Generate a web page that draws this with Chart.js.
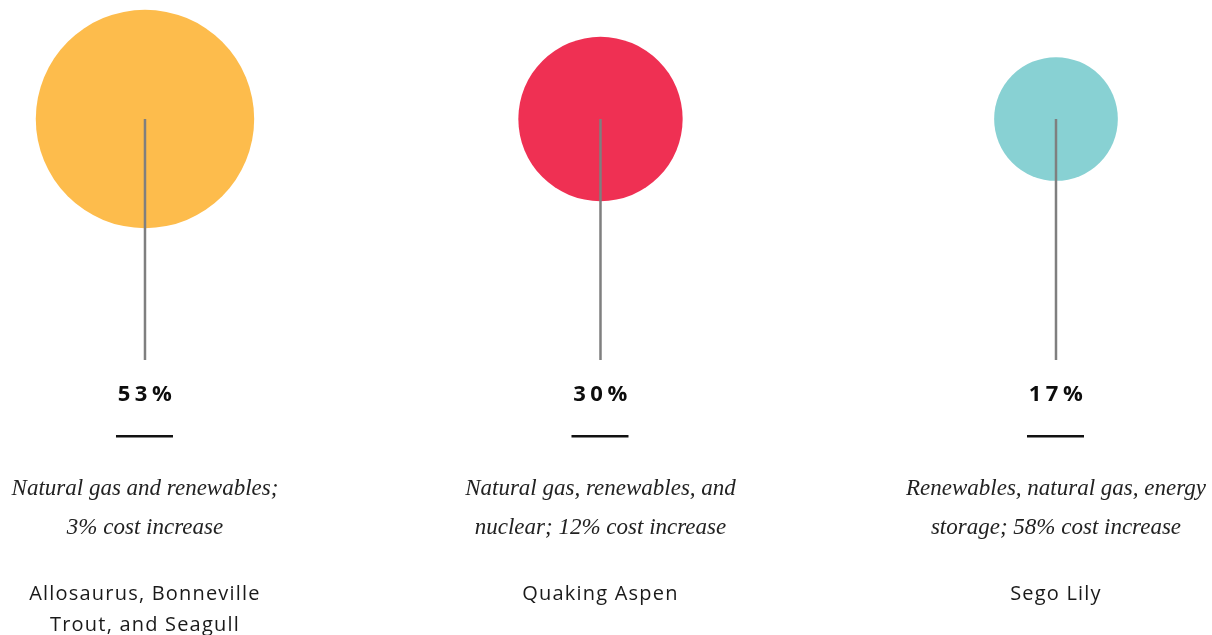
<!DOCTYPE html>
<html lang="en">
<head>
  <meta charset="UTF-8">
  <title>Portfolio shares</title>
  <script src="https://cdn.jsdelivr.net/npm/chart.js"></script>
  <style>
    html, body {
      margin: 0;
      padding: 0;
      background: #fff;
    }
    .wrap {
      position: relative;
      width: 1212px;
      height: 635px;
    }
  </style>
</head>
<body>
  <div class="wrap">
    <canvas id="bubbles"></canvas>
  </div>
  <script>
    // values
    const shares = [53, 30, 17];
    const shareLabels = ['53%', '30%', '17%'];
    const descriptions = [
      ['Natural gas and renewables;', '3% cost increase'],
      ['Natural gas, renewables, and', 'nuclear; 12% cost increase'],
      ['Renewables, natural gas, energy', 'storage; 58% cost increase']
    ];
    const portfolios = [
      ['Allosaurus, Bonneville', 'Trout, and Seagull'],
      ['Quaking Aspen'],
      ['Sego Lily']
    ];
    const colors = ['#fdbc4c', '#ef3053', '#88d1d3'];

    // stems and captions under each bubble
    const captions = {
      id: 'captions',
      afterDatasetsDraw(chart) {
        const { ctx, scales: { x, y } } = chart;
        const top = y.getPixelForValue(1);
        const base = y.getPixelForValue(0);
        ctx.save();
        shares.forEach((v, i) => {
          const cx = x.getPixelForValue(i);
          // stem
          ctx.strokeStyle = '#7f7f7f';
          ctx.lineWidth = 2.5;
          ctx.beginPath();
          ctx.moveTo(cx, top);
          ctx.lineTo(cx, base);
          ctx.stroke();

          ctx.textAlign = 'center';
          ctx.textBaseline = 'middle';

          // percentage
          ctx.fillStyle = '#0d0d0d';
          ctx.font = 'bold 22px "Open Sans", sans-serif';
          ctx.letterSpacing = '4.5px';
          ctx.fillText(shareLabels[i], cx + 2, base + 35);
          ctx.letterSpacing = '0px';

          // short rule
          ctx.fillStyle = '#111';
          ctx.fillRect(cx - 29, base + 75, 57, 2.5);

          // description
          ctx.fillStyle = '#222';
          ctx.font = 'italic 23px "Liberation Serif", serif';
          descriptions[i].forEach((line, j) => {
            ctx.fillText(line, cx, base + 129 + j * 39);
          });

          // portfolio names
          ctx.fillStyle = '#1a1a1a';
          ctx.font = '20px "Open Sans", sans-serif';
          ctx.letterSpacing = '1.2px';
          portfolios[i].forEach((line, j) => {
            ctx.fillText(line, cx, base + 234 + j * 31);
          });
          ctx.letterSpacing = '0px';
        });
        ctx.restore();
      }
    };

    new Chart(document.getElementById('bubbles').getContext('2d'), {
      type: 'bubble',
      data: {
        datasets: [{
          data: shares.map((v, i) => ({ x: i, y: 1, r: 15 * Math.sqrt(v) })),
          backgroundColor: colors,
          borderWidth: 0,
          hoverRadius: 0,
          clip: false
        }]
      },
      options: {
        responsive: true,
        maintainAspectRatio: false,
        animation: false,
        layout: { padding: 0, autoPadding: false },
        scales: {
          x: { type: 'linear', display: false, min: -0.3183, max: 2.3425 },
          y: { type: 'linear', display: false, min: -1.1411, max: 1.4938 }
        },
        plugins: {
          legend: { display: false },
          tooltip: { enabled: false }
        }
      },
      plugins: [captions]
    });
  </script>
</body>
</html>
